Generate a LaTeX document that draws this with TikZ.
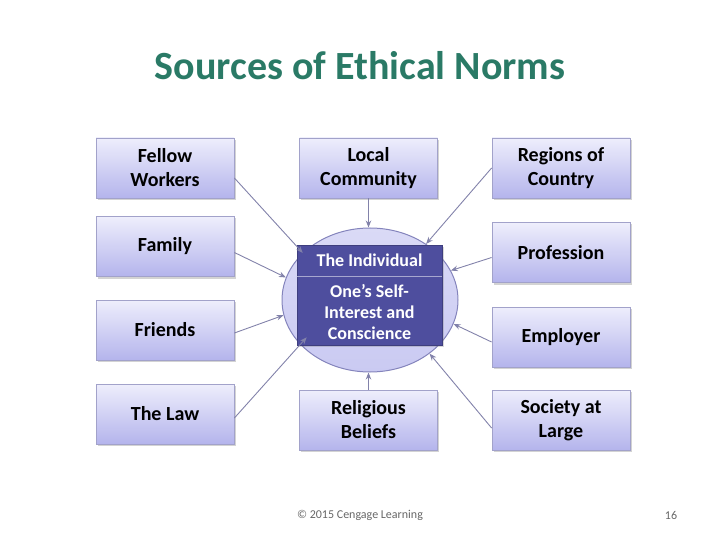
\documentclass[tikz,border=0pt]{standalone}
\usepackage{fontspec}
\setmainfont{Carlito}
\usepackage{tikz}
\usetikzlibrary{shapes.geometric, arrows.meta, positioning, shadows}
\definecolor{titlegreen}{HTML}{2A7A66}
\definecolor{boxtop}{HTML}{EEEEFC}
\definecolor{boxbottom}{HTML}{B4B4EC}
\definecolor{boxline}{HTML}{A2A2CA}
\definecolor{indivblue}{HTML}{4E4E9E}
\definecolor{ellfill}{HTML}{CACAF2}
\definecolor{ellline}{HTML}{8484BC}
\definecolor{arrowgray}{HTML}{8282AA}
\tikzset{
    source/.style={rectangle, minimum width=138pt, minimum height=60pt, align=center, font=\bfseries\fontsize{20}{24}\selectfont, top color=boxtop, bottom color=boxbottom, draw=boxline, line width=0.8pt, drop shadow={shadow xshift=1.5pt, shadow yshift=-2pt, opacity=0.35}},
    arrow/.style={arrowgray, line width=0.9pt, -{Stealth[length=7pt,width=5.5pt]}},
    whitetext/.style={text=white, align=center, font=\bfseries\fontsize{18}{21}\selectfont},
}

\begin{document}
\begin{tikzpicture}[x=1pt,y=-1pt]
  \useasboundingbox (0,0) rectangle (720,540);
  \node[text=titlegreen, font=\bfseries\fontsize{40}{44}\selectfont] (title) at (360,66) {Sources of Ethical Norms};

  % the individual in the middle
  \node[ellipse, minimum width=176pt, minimum height=144pt, inner sep=0pt, top color=ellfill!70!white, bottom color=ellfill, draw=ellline, line width=1pt] (ell) at (370,300) {};
  \node[rectangle, minimum width=145pt, minimum height=100pt, fill=indivblue, draw=indivblue!80!black, line width=0.6pt, drop shadow={shadow xshift=1.5pt, shadow yshift=-2pt, opacity=0.3}] (indiv) at (369.5,295) {};
  \coordinate (split) at (369.5,276);
  \draw[indivblue!50!white, line width=0.8pt] (indiv.west |- split) -- (indiv.east |- split);
  \node[whitetext] (head) at (369.5,260) {The Individual};
  \node[whitetext] (self) at (369.5,312) {One’s Self-\\Interest and\\Conscience};

  % left column
  \node[source] (fellow)  at (165,168)   {Fellow\\Workers};
  \node[source] (family)  at (165,246.5) {Family};
  \node[source] (friends) at (165,330)   {Friends};
  \node[source] (law)     at (165,414)   {The Law};
  % middle column
  \node[source] (local)    at (368.5,168) {Local\\Community};
  \node[source] (religion) at (368.5,420) {Religious\\Beliefs};
  % right column
  \node[source] (regions)    at (561,168)   {Regions of\\Country};
  \node[source] (profession) at (561,252.5) {Profession};
  \node[source] (employer)   at (561,337)   {Employer};
  \node[source] (society)    at (561,420)   {Society at\\Large};

  \draw[arrow] ([yshift=-10pt]fellow.east) -- (ell.145);
  \draw[arrow] ([yshift=-6pt]family.east) -- (ell.165);
  \draw[arrow] ([yshift=-3pt]friends.east) -- (ell.190);
  \draw[arrow] ([yshift=-4pt]law.east) -- ([xshift=10pt,yshift=8pt]indiv.south west);
  \draw[arrow] (local.south) -- (ell.north -| local.south);
  \draw[arrow] (religion.north) -- (ell.south -| religion.north);
  \draw[arrow] (regions.west) -- (ell.45);
  \draw[arrow] ([yshift=-5pt]profession.west) -- (ell.20);
  \draw[arrow] ([yshift=-5pt]employer.west) -- (ell.-16);
  \draw[arrow] ([yshift=-8pt]society.west) -- (ell.-42);

  % footer
  \node[text=black!60, font=\fontsize{12}{14}\selectfont] (copy) at (360,515) {© 2015 Cengage Learning};
  \node[text=black!60, font=\fontsize{12}{14}\selectfont] (page) at (671,515) {16};
\end{tikzpicture}
\end{document}
